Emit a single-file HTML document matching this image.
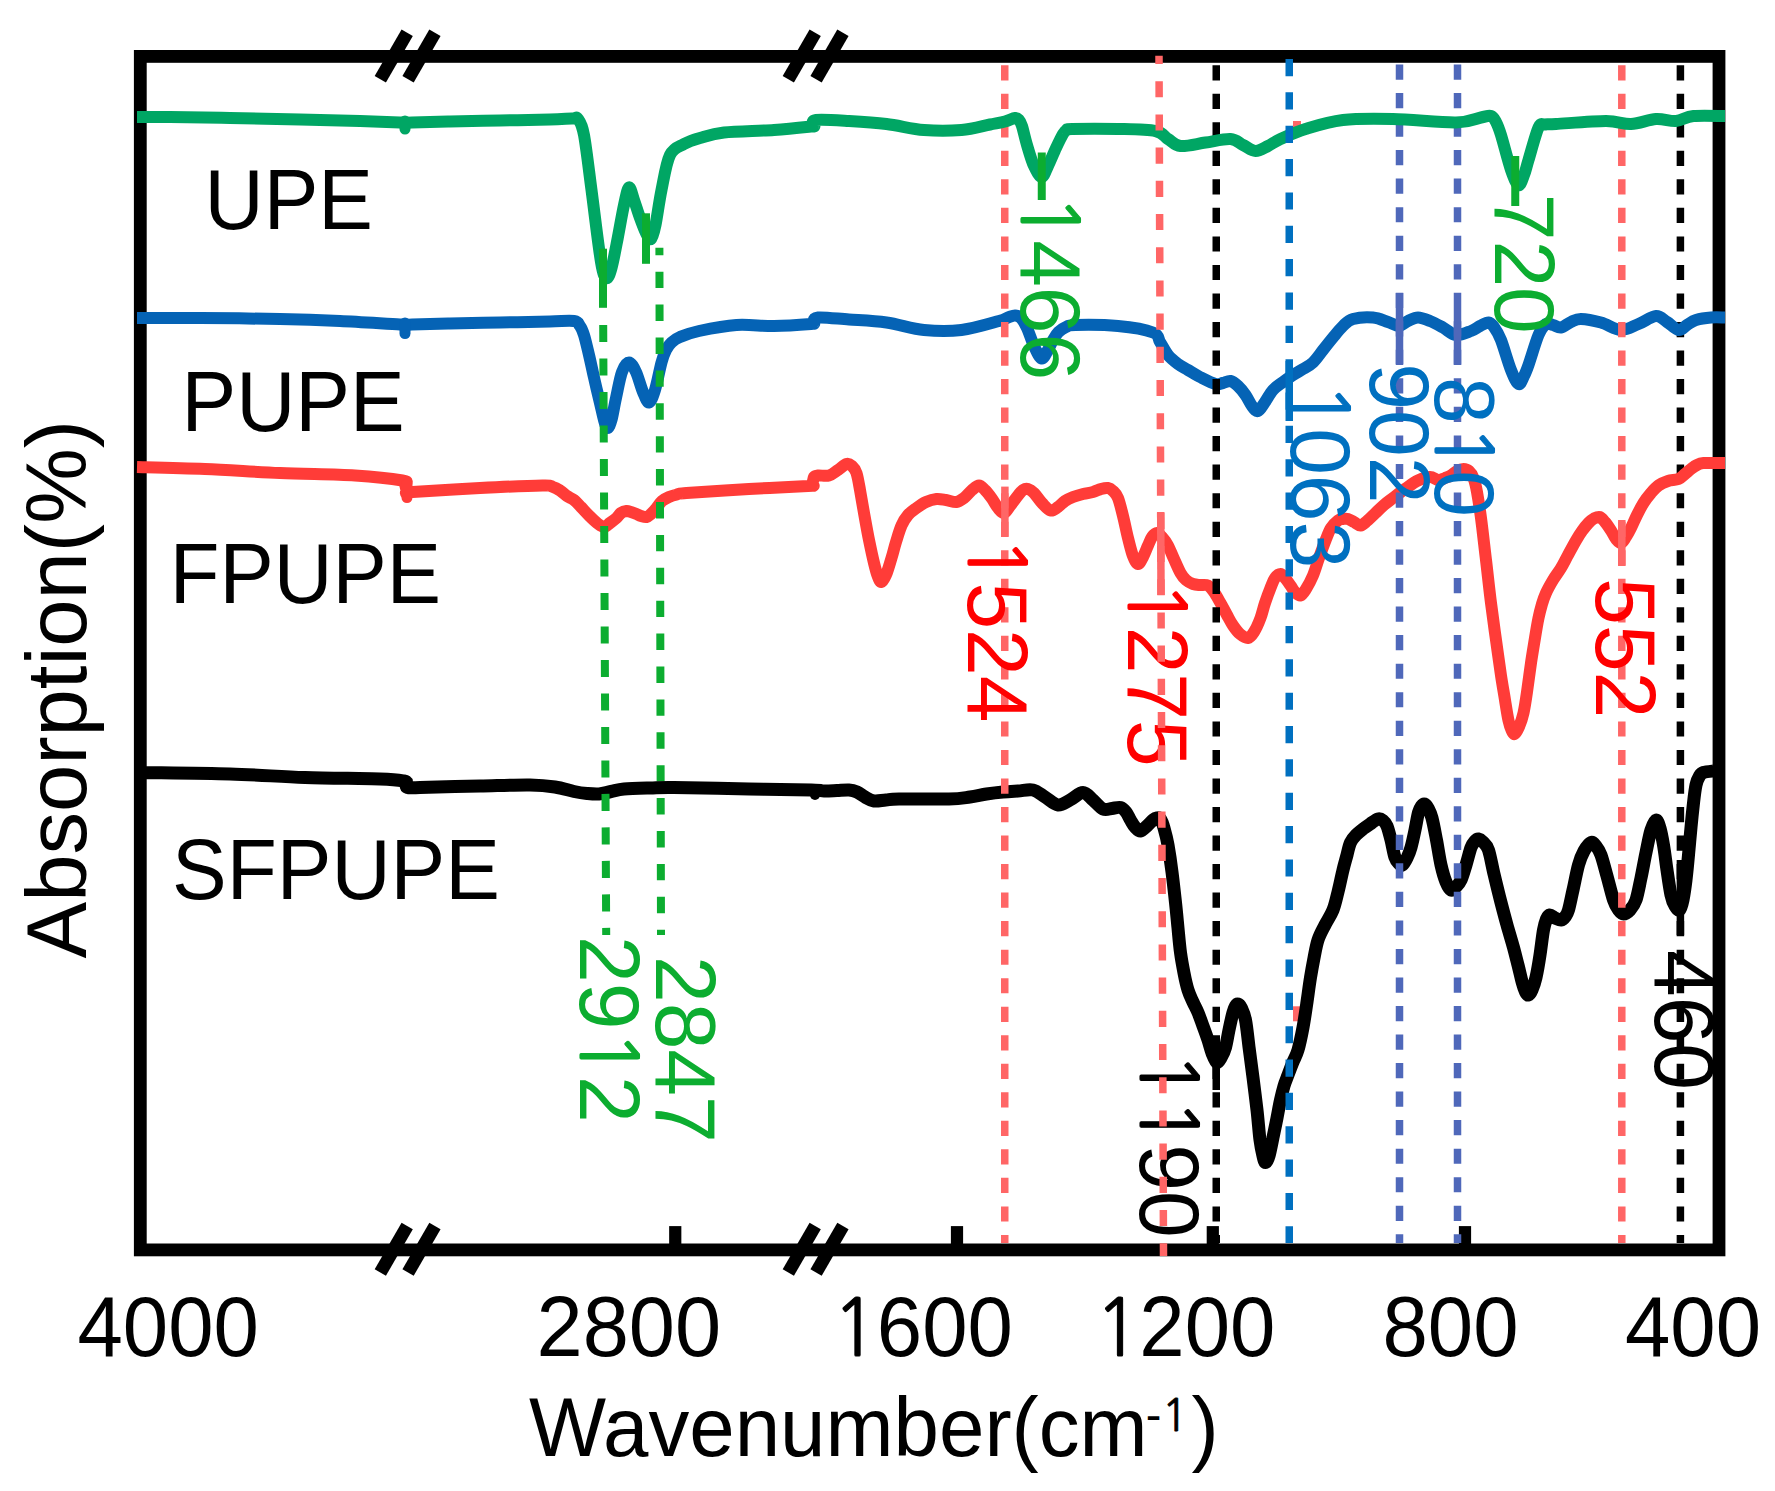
<!DOCTYPE html>
<html><head><meta charset="utf-8"><title>FTIR</title>
<style>html,body{margin:0;padding:0;background:#fff}svg{display:block}text{font-family:"Liberation Sans",sans-serif}</style></head><body>
<svg width="1775" height="1491" viewBox="0 0 1775 1491">
<rect width="1775" height="1491" fill="#fff"/>
<rect x="140.3" y="56.4" width="1578.7" height="1193.5" fill="none" stroke="#000" stroke-width="12.8"/>
<rect x="669.15" y="1226.1" width="12.2" height="20" fill="#000"/>
<rect x="950.9" y="1226.1" width="12.2" height="20" fill="#000"/>
<rect x="1206.7" y="1226.1" width="12.2" height="20" fill="#000"/>
<rect x="1458.9" y="1226.1" width="12.2" height="20" fill="#000"/>
<line x1="380.3" y1="79.2" x2="407.2" y2="32.7" stroke="#000" stroke-width="13"/>
<line x1="380.3" y1="1272.5" x2="407.2" y2="1226.1" stroke="#000" stroke-width="13"/>
<line x1="408.05" y1="79.2" x2="434.95" y2="32.7" stroke="#000" stroke-width="13"/>
<line x1="408.05" y1="1272.5" x2="434.95" y2="1226.1" stroke="#000" stroke-width="13"/>
<line x1="788.3" y1="79.2" x2="815.1999999999999" y2="32.7" stroke="#000" stroke-width="13"/>
<line x1="788.3" y1="1272.5" x2="815.1999999999999" y2="1226.1" stroke="#000" stroke-width="13"/>
<line x1="816.05" y1="79.2" x2="842.9499999999999" y2="32.7" stroke="#000" stroke-width="13"/>
<line x1="816.05" y1="1272.5" x2="842.9499999999999" y2="1226.1" stroke="#000" stroke-width="13"/>
<line x1="1680.4" y1="65.2" x2="1680.4" y2="1243" stroke="#000" stroke-width="7.5" stroke-dasharray="15.2 13.33" stroke-dashoffset="0"/>
<rect x="1293" y="121" width="8" height="8" fill="#FF6666"/><rect x="1293" y="1006.3" width="8" height="15" fill="#FF6666"/>
<path d="M137,467 C148.3,467.3 181.2,468.0 205,469 C228.8,470.0 255.0,471.9 280,473 C305.0,474.1 334.6,474.2 355,475.5 C375.4,476.8 394.2,479.1 402.5,480.5 C410.8,481.9 404.2,481.9 405,484 C405.8,486.1 406.2,491.7 407.5,493 C408.8,494.3 400.4,492.8 412.5,492 C424.6,491.2 458.3,489.1 480,488 C501.7,486.9 530.3,485.7 542.5,485.5 C554.7,485.3 550.1,486.2 553,487 C555.9,487.8 557.7,489.0 560,490.5 C562.3,492.0 564.7,494.4 567,496 C569.3,497.6 571.7,498.2 574,500 C576.3,501.8 578.5,504.4 581,507 C583.5,509.6 586.3,512.8 589,515.5 C591.7,518.2 594.5,521.1 597,523 C599.5,524.9 601.8,527.0 604,527 C606.2,527.0 607.9,524.5 610,523 C612.1,521.5 614.7,519.7 616.5,518 C618.3,516.3 619.3,514.2 621,513 C622.7,511.8 624.8,511.2 626.5,511 C628.2,510.8 629.3,511.5 631,512 C632.7,512.5 634.8,513.3 636.5,514 C638.2,514.7 639.3,515.5 641,516 C642.7,516.5 644.8,517.3 646.5,517 C648.2,516.7 649.3,515.5 651,514 C652.7,512.5 654.7,510.2 656.5,508 C658.3,505.8 659.9,502.8 662,501 C664.1,499.2 666.5,498.1 669,497 C671.5,495.9 674.1,495.2 677,494.5 C679.9,493.8 674.5,493.9 686.5,493 C698.5,492.1 728.8,490.2 749,489 C769.2,487.8 797.5,486.7 808,486 C818.5,485.3 811.0,486.5 812,485 C813.0,483.5 813.0,478.6 814,477 C815.0,475.4 815.5,475.8 818,475.5 C820.5,475.2 825.7,476.4 829,475.5 C832.3,474.6 835.1,471.9 838,470 C840.9,468.1 844.2,464.7 846.5,464 C848.8,463.3 850.3,464.5 852,466 C853.7,467.5 855.2,469.0 856.5,473 C857.8,477.0 858.8,483.3 860,490 C861.2,496.7 862.5,504.7 864,513 C865.5,521.3 867.3,531.7 869,540 C870.7,548.3 872.5,556.8 874,563 C875.5,569.2 876.8,573.8 878,577 C879.2,580.2 880.2,582.3 881.5,582 C882.8,581.7 884.3,579.0 886,575 C887.7,571.0 889.8,563.5 891.5,558 C893.2,552.5 894.3,547.4 896,542 C897.7,536.6 899.5,530.0 901.5,525.5 C903.5,521.0 905.5,517.9 908,515 C910.5,512.1 913.5,510.2 916.5,508 C919.5,505.8 922.7,503.5 926,502 C929.3,500.5 933.2,499.3 936.5,499 C939.8,498.7 942.7,499.5 946,500 C949.3,500.5 953.5,502.3 956.5,502 C959.5,501.7 961.4,500.0 964,498 C966.6,496.0 969.5,492.1 972,490 C974.5,487.9 976.8,485.5 979,485.5 C981.2,485.5 982.9,487.9 985,490 C987.1,492.1 989.3,495.0 991.5,498 C993.7,501.0 995.9,505.5 998,508 C1000.1,510.5 1002.0,513.3 1004,513 C1006.0,512.7 1007.7,508.9 1010,506 C1012.3,503.1 1015.8,498.2 1018,495.5 C1020.2,492.8 1021.3,491.1 1023,490 C1024.7,488.9 1026.2,488.5 1028,489 C1029.8,489.5 1031.7,490.7 1034,493 C1036.3,495.3 1039.2,500.1 1042,503 C1044.8,505.9 1047.8,509.8 1050.5,510.5 C1053.2,511.2 1055.6,508.6 1058,507 C1060.4,505.4 1062.5,502.7 1065,501 C1067.5,499.3 1070.0,498.2 1073,497 C1076.0,495.8 1079.7,494.8 1083,494 C1086.3,493.2 1090.0,492.8 1093,492 C1096.0,491.2 1098.5,489.7 1101,489 C1103.5,488.3 1106.0,487.7 1108,488 C1110.0,488.3 1111.3,489.3 1113,491 C1114.7,492.7 1116.3,493.8 1118,498 C1119.7,502.2 1121.3,509.3 1123,516 C1124.7,522.7 1126.3,531.3 1128,538 C1129.7,544.7 1131.3,551.7 1133,556 C1134.7,560.3 1136.3,563.8 1138,564 C1139.7,564.2 1141.3,560.1 1143,557 C1144.7,553.9 1146.5,548.8 1148,545.5 C1149.5,542.2 1150.5,539.1 1152,537 C1153.5,534.9 1155.1,533.0 1156.75,533 C1158.4,533.0 1160.1,534.9 1162,537 C1163.9,539.1 1166.0,541.8 1168,545.5 C1170.0,549.2 1171.9,554.4 1174,559 C1176.1,563.6 1178.5,569.5 1180.5,573 C1182.5,576.5 1183.9,578.2 1186,580 C1188.1,581.8 1190.7,583.2 1193,584 C1195.3,584.8 1197.5,584.8 1200,585 C1202.5,585.2 1205.7,584.3 1208,585.5 C1210.3,586.7 1211.9,589.1 1214,592 C1216.1,594.9 1218.3,599.2 1220.5,603 C1222.7,606.8 1224.9,611.2 1227,615 C1229.1,618.8 1230.8,622.3 1233,625.5 C1235.2,628.7 1237.5,631.9 1240,634 C1242.5,636.1 1245.7,638.3 1248,638 C1250.3,637.7 1251.9,635.3 1254,632 C1256.1,628.7 1258.7,622.8 1260.5,618 C1262.3,613.2 1263.3,608.0 1265,603 C1266.7,598.0 1268.8,592.2 1270.5,588 C1272.2,583.8 1273.3,580.3 1275,578 C1276.7,575.7 1278.8,574.0 1280.5,574 C1282.2,574.0 1283.3,576.1 1285,578 C1286.7,579.9 1288.8,583.2 1290.5,585.5 C1292.2,587.8 1293.3,590.3 1295,592 C1296.7,593.7 1298.7,596.0 1300.5,595.5 C1302.3,595.0 1303.9,592.3 1306,589 C1308.1,585.7 1310.8,580.7 1313,575.5 C1315.2,570.3 1316.9,563.8 1319,558 C1321.1,552.2 1323.5,545.5 1325.5,540.5 C1327.5,535.5 1328.9,531.3 1331,528 C1333.1,524.7 1336.0,522.0 1338,520.5 C1340.0,519.0 1341.3,519.2 1343,519 C1344.7,518.8 1346.2,518.5 1348,519 C1349.8,519.5 1351.9,520.9 1354,522 C1356.1,523.1 1358.3,525.7 1360.5,525.5 C1362.7,525.3 1364.5,523.1 1367,521 C1369.5,518.9 1372.7,515.7 1375.5,513 C1378.3,510.3 1381.1,507.5 1384,505 C1386.9,502.5 1389.5,500.7 1393,498 C1396.5,495.3 1400.8,491.9 1405,489 C1409.2,486.1 1413.8,482.5 1418,480.5 C1422.2,478.5 1426.6,477.1 1430,477 C1433.4,476.9 1436.0,479.8 1438.5,480 C1441.0,480.2 1442.9,478.8 1445,478 C1447.1,477.2 1449.0,476.7 1451,475.5 C1453.0,474.3 1454.9,472.1 1457,471 C1459.1,469.9 1461.5,469.0 1463.5,469 C1465.5,469.0 1467.3,469.5 1469,471 C1470.7,472.5 1472.2,474.5 1473.5,478 C1474.8,481.5 1475.8,485.3 1477,492 C1478.2,498.7 1479.5,506.7 1481,518 C1482.5,529.3 1484.3,545.8 1486,560 C1487.7,574.2 1489.3,589.7 1491,603 C1492.7,616.3 1494.3,627.9 1496,640 C1497.7,652.1 1499.5,665.5 1501,675.5 C1502.5,685.5 1503.8,692.5 1505,700 C1506.2,707.5 1507.4,715.5 1508.5,720.5 C1509.6,725.5 1510.5,727.8 1511.5,730 C1512.5,732.2 1513.5,734.5 1514.75,734 C1516.0,733.5 1517.5,730.5 1519,727 C1520.5,723.5 1522.2,718.8 1523.5,713 C1524.8,707.2 1525.8,700.3 1527,692 C1528.2,683.7 1529.7,672.0 1531,663 C1532.3,654.0 1533.8,645.5 1535,638 C1536.2,630.5 1537.3,623.7 1538.5,618 C1539.7,612.3 1540.8,608.2 1542,604 C1543.2,599.8 1544.2,597.0 1546,593 C1547.8,589.0 1550.5,584.2 1553,580 C1555.5,575.8 1558.5,572.2 1561,568 C1563.5,563.8 1565.5,559.6 1568,555 C1570.5,550.4 1573.7,544.5 1576,540.5 C1578.3,536.5 1579.9,533.9 1582,531 C1584.1,528.1 1586.5,525.1 1588.5,523 C1590.5,520.9 1592.1,519.5 1594,518.5 C1595.9,517.5 1597.9,516.4 1599.75,517 C1601.6,517.6 1603.1,519.8 1605,522 C1606.9,524.2 1609.2,527.7 1611,530.5 C1612.8,533.3 1614.3,536.9 1616,539 C1617.7,541.1 1619.3,543.3 1621,543 C1622.7,542.7 1624.3,539.5 1626,537 C1627.7,534.5 1629.2,531.7 1631,528 C1632.8,524.3 1634.9,519.2 1637,515 C1639.1,510.8 1641.2,506.7 1643.5,503 C1645.8,499.3 1648.5,495.9 1651,493 C1653.5,490.1 1655.7,487.5 1658.5,485.5 C1661.3,483.5 1664.7,482.1 1668,481 C1671.3,479.9 1675.7,480.2 1678.5,479 C1681.3,477.8 1682.9,475.7 1685,474 C1687.1,472.3 1689.0,470.5 1691,469 C1693.0,467.5 1694.9,466.0 1697,465 C1699.1,464.0 1698.8,463.3 1703.5,463 C1708.2,462.7 1721.4,463.0 1725,463" fill="none" stroke="#FF3C38" stroke-width="12" stroke-linejoin="round" stroke-linecap="butt"/>
<path d="M137,318 C147.5,318.0 176.2,317.8 200,318 C223.8,318.2 256.7,318.5 280,319 C303.3,319.5 320.0,320.1 340,321 C360.0,321.9 388.0,323.9 400,324.5 C412.0,325.1 403.7,324.7 412,324.5 C420.3,324.3 435.3,323.8 450,323.5 C464.7,323.2 483.3,322.8 500,322.5 C516.7,322.2 537.7,321.8 550,321.5 C562.3,321.2 569.0,320.2 574,321 C579.0,321.8 578.3,323.7 580,326 C581.7,328.3 582.5,330.2 584,335 C585.5,339.8 587.3,347.9 589,355 C590.7,362.1 592.2,369.5 594,377.5 C595.8,385.5 598.3,395.9 600,403 C601.7,410.1 602.8,415.8 604,420 C605.2,424.2 606.2,428.0 607.5,428 C608.8,428.0 610.1,425.0 611.5,420 C612.9,415.0 614.2,406.0 616,398 C617.8,390.0 619.8,377.9 622,372 C624.2,366.1 626.7,362.5 629,362.5 C631.3,362.5 633.7,367.1 636,372 C638.3,376.9 640.8,386.9 643,392 C645.2,397.1 647.0,402.8 649,402.5 C651.0,402.2 652.9,396.7 655,390 C657.1,383.3 659.7,369.2 661.5,362.5 C663.3,355.8 664.3,353.3 666,350 C667.7,346.7 669.2,344.7 671.5,342.5 C673.8,340.3 675.4,338.9 680,337 C684.6,335.1 689.6,333.0 699,331 C708.4,329.0 724.0,325.8 736.5,325 C749.0,324.2 761.6,326.2 774,326 C786.4,325.8 804.5,324.5 811,324 C817.5,323.5 811.8,324.1 813,323 C814.2,321.9 812.0,318.1 818,317.5 C824.0,316.9 837.6,318.7 849,319.5 C860.4,320.3 874.0,320.8 886.5,322.5 C899.0,324.2 911.5,328.8 924,330 C936.5,331.2 949.0,331.5 961.5,330 C974.0,328.5 991.2,323.1 999,321 C1006.8,318.9 1005.3,318.4 1008,317.5 C1010.7,316.6 1012.8,315.4 1015,315.5 C1017.2,315.6 1019.0,315.9 1021,318 C1023.0,320.1 1024.8,323.3 1027,328 C1029.2,332.7 1031.6,340.9 1034,346 C1036.4,351.1 1039.2,357.8 1041.5,358.5 C1043.8,359.2 1046.1,353.1 1048,350 C1049.9,346.9 1051.2,343.0 1053,340 C1054.8,337.0 1056.3,334.2 1058.5,332 C1060.7,329.8 1063.2,328.2 1066,327 C1068.8,325.8 1066.8,325.2 1075.5,325 C1084.2,324.8 1105.1,324.8 1118,326 C1130.9,327.2 1146.0,329.8 1153,332.5 C1160.0,335.2 1157.5,338.2 1160,342 C1162.5,345.8 1165.0,351.3 1168,355 C1171.0,358.7 1174.7,361.5 1178,364 C1181.3,366.5 1184.3,367.8 1188,370 C1191.7,372.2 1195.4,374.7 1200,377 C1204.6,379.3 1211.7,383.0 1215.5,384 C1219.3,385.0 1220.5,383.5 1223,383 C1225.5,382.5 1228.0,380.5 1230.5,381 C1233.0,381.5 1235.5,383.7 1238,386 C1240.5,388.3 1243.2,391.7 1245.5,395 C1247.8,398.3 1249.9,403.3 1252,406 C1254.1,408.7 1255.8,411.7 1258,411 C1260.2,410.3 1262.5,405.5 1265,402 C1267.5,398.5 1270.0,393.3 1273,390 C1276.0,386.7 1279.7,384.5 1283,382 C1286.3,379.5 1289.7,377.2 1293,375 C1296.3,372.8 1299.7,371.1 1303,369 C1306.3,366.9 1309.7,365.7 1313,362.5 C1316.3,359.3 1319.7,354.2 1323,350 C1326.3,345.8 1329.7,341.5 1333,337.5 C1336.3,333.5 1339.7,329.1 1343,326 C1346.3,322.9 1348.0,320.4 1353,319 C1358.0,317.6 1367.2,317.0 1373,317.5 C1378.8,318.0 1383.7,320.6 1388,322 C1392.3,323.4 1395.7,326.2 1399,326 C1402.3,325.8 1404.8,322.4 1408,321 C1411.2,319.6 1414.3,317.5 1418,317.5 C1421.7,317.5 1425.8,319.3 1430,321 C1434.2,322.7 1438.7,325.2 1443,327.5 C1447.3,329.8 1451.3,334.4 1456,335 C1460.7,335.6 1467.0,332.5 1471,331 C1475.0,329.5 1477.1,327.4 1480,326 C1482.9,324.6 1486.2,322.3 1488.5,322.5 C1490.8,322.7 1491.9,324.1 1494,327 C1496.1,329.9 1498.2,332.8 1501,340 C1503.8,347.2 1508.1,362.7 1511,370 C1513.9,377.3 1516.3,383.0 1518.5,384 C1520.7,385.0 1522.3,379.2 1524,376 C1525.7,372.8 1526.1,371.8 1528.5,365 C1530.9,358.2 1535.6,341.8 1538.5,335 C1541.4,328.2 1543.6,325.7 1546,324 C1548.4,322.3 1550.5,324.4 1553,325 C1555.5,325.6 1558.0,328.0 1561,327.5 C1564.0,327.0 1567.7,323.4 1571,322 C1574.3,320.6 1576.0,318.9 1581,319 C1586.0,319.1 1594.3,320.7 1601,322.5 C1607.7,324.3 1614.8,329.8 1621,330 C1627.2,330.2 1632.7,326.3 1638.5,324 C1644.3,321.7 1651.2,316.3 1656,316 C1660.8,315.7 1663.2,319.7 1667,322 C1670.8,324.3 1675.2,329.5 1678.5,330 C1681.8,330.5 1684.1,326.7 1687,325 C1689.9,323.3 1692.0,321.2 1696,320 C1700.0,318.8 1706.2,317.9 1711,317.5 C1715.8,317.1 1722.7,317.5 1725,317.5" fill="none" stroke="#0563B5" stroke-width="12" stroke-linejoin="round" stroke-linecap="butt"/>
<line x1="659.4" y1="247.7" x2="661" y2="935" stroke="#0CAD30" stroke-width="8" stroke-dasharray="16.4 16.5" stroke-dashoffset="8.9"/>
<path d="M137,772.5 C152.5,772.8 202.0,773.2 230,774 C258.0,774.8 280.0,776.7 305,777.5 C330.0,778.3 363.5,778.4 380,779 C396.5,779.6 399.7,780.3 404,781 C408.3,781.7 405.4,781.9 406,783 C406.6,784.1 405.2,786.8 407.5,787.5 C409.8,788.2 407.9,787.8 420,787.5 C432.1,787.2 461.7,786.4 480,786 C498.3,785.6 517.5,784.8 530,785 C542.5,785.2 547.7,785.9 555,787 C562.3,788.1 568.7,790.4 574,791.5 C579.3,792.6 582.8,793.1 587,793.5 C591.2,793.9 595.0,794.3 599,794 C603.0,793.7 606.8,792.3 611,791.5 C615.2,790.7 617.5,789.6 624,789 C630.5,788.4 641.7,788.2 650,788 C658.3,787.8 657.5,787.3 674,787.5 C690.5,787.7 726.1,788.6 749,789 C771.9,789.4 799.0,789.7 811.5,790 C824.0,790.3 819.8,790.9 824,791 C828.2,791.1 832.8,790.7 837,790.5 C841.2,790.3 845.7,789.8 849,790 C852.3,790.2 854.3,790.8 857,792 C859.7,793.2 862.2,795.5 865,797 C867.8,798.5 870.5,800.5 874,801 C877.5,801.5 881.8,800.3 886,800 C890.2,799.7 888.5,799.2 899,799 C909.5,798.8 937.2,799.3 949,799 C960.8,798.7 963.8,797.8 970,797 C976.2,796.2 981.0,794.8 986.5,794 C992.0,793.2 997.8,792.5 1003,792 C1008.2,791.5 1013.0,791.3 1018,791 C1023.0,790.7 1028.5,789.0 1033,790 C1037.5,791.0 1040.8,794.5 1045,797 C1049.2,799.5 1053.8,804.5 1058,805 C1062.2,805.5 1065.8,802.1 1070,800 C1074.2,797.9 1079.2,792.5 1083,792.5 C1086.8,792.5 1089.7,797.2 1093,800 C1096.3,802.8 1099.8,807.6 1103,809 C1106.2,810.4 1109.1,808.8 1112,808.5 C1114.9,808.2 1118.2,806.9 1120.5,807.5 C1122.8,808.1 1124.3,809.9 1126,812 C1127.7,814.1 1129.0,817.5 1130.5,820 C1132.0,822.5 1133.3,825.2 1135,827 C1136.7,828.8 1138.5,831.2 1140.5,831 C1142.5,830.8 1144.9,827.8 1147,826 C1149.1,824.2 1151.3,821.3 1153,820 C1154.7,818.7 1155.8,818.2 1157,818 C1158.2,817.8 1159.3,817.3 1160.5,819 C1161.7,820.7 1162.8,823.7 1164,828 C1165.2,832.3 1166.7,837.7 1168,845 C1169.3,852.3 1170.8,862.4 1172,872 C1173.2,881.6 1174.5,893.2 1175.5,902.5 C1176.5,911.8 1177.2,919.7 1178,928 C1178.8,936.3 1179.5,945.0 1180.5,952.5 C1181.5,960.0 1182.8,966.8 1184,973 C1185.2,979.2 1186.5,985.2 1188,990 C1189.5,994.8 1191.3,998.2 1193,1002 C1194.7,1005.8 1196.3,1008.5 1198,1012.5 C1199.7,1016.5 1201.3,1021.4 1203,1026 C1204.7,1030.6 1206.5,1035.5 1208,1040 C1209.5,1044.5 1210.5,1049.2 1212,1053 C1213.5,1056.8 1215.2,1061.7 1216.75,1062.5 C1218.2,1063.3 1219.5,1060.5 1221,1058 C1222.5,1055.5 1224.2,1052.2 1225.5,1047.5 C1226.8,1042.8 1227.8,1035.8 1229,1030 C1230.2,1024.2 1231.9,1016.5 1233,1012.5 C1234.1,1008.5 1234.7,1007.4 1235.5,1006 C1236.3,1004.6 1237.0,1003.7 1238,1004 C1239.0,1004.3 1240.2,1005.3 1241.5,1008 C1242.8,1010.7 1244.2,1013.5 1245.5,1020 C1246.8,1026.5 1247.8,1037.4 1249,1047 C1250.2,1056.6 1251.7,1067.0 1253,1077.5 C1254.3,1088.0 1255.8,1099.6 1257,1110 C1258.2,1120.4 1259.0,1132.3 1260,1140 C1261.0,1147.7 1262.1,1152.2 1263,1156 C1263.9,1159.8 1264.5,1162.5 1265.5,1162.5 C1266.5,1162.5 1267.8,1160.2 1269,1156 C1270.2,1151.8 1271.7,1143.8 1273,1137.5 C1274.3,1131.2 1275.8,1124.2 1277,1118 C1278.2,1111.8 1279.3,1105.3 1280.5,1100 C1281.7,1094.7 1282.8,1090.2 1284,1086 C1285.2,1081.8 1286.5,1079.0 1288,1075 C1289.5,1071.0 1291.3,1066.2 1293,1062 C1294.7,1057.8 1296.3,1055.8 1298,1050 C1299.7,1044.2 1301.5,1035.5 1303,1027.5 C1304.5,1019.5 1305.8,1010.3 1307,1002 C1308.2,993.7 1309.3,984.8 1310.5,977.5 C1311.7,970.2 1312.8,964.2 1314,958 C1315.2,951.8 1316.2,945.5 1318,940 C1319.8,934.5 1322.5,930.0 1325,925 C1327.5,920.0 1330.8,915.5 1333,910 C1335.2,904.5 1336.3,898.7 1338,892 C1339.7,885.3 1341.5,876.2 1343,870 C1344.5,863.8 1345.8,859.6 1347,855 C1348.2,850.4 1349.0,845.8 1350.5,842.5 C1352.0,839.2 1353.9,837.2 1356,835 C1358.1,832.8 1360.7,830.8 1363,829 C1365.3,827.2 1367.5,825.7 1370,824 C1372.5,822.3 1375.8,819.6 1378,819 C1380.2,818.4 1381.5,819.3 1383,820.5 C1384.5,821.7 1385.7,822.8 1387,826 C1388.3,829.2 1389.7,834.8 1391,840 C1392.3,845.2 1393.7,853.6 1395,857.5 C1396.3,861.4 1397.8,862.2 1399,863.5 C1400.2,864.8 1401.2,865.9 1402.5,865 C1403.8,864.1 1405.6,860.9 1407,858 C1408.4,855.1 1409.7,852.2 1411,847.5 C1412.3,842.8 1413.8,835.8 1415,830 C1416.2,824.2 1417.4,816.5 1418.5,812.5 C1419.6,808.5 1420.5,807.4 1421.5,806 C1422.5,804.6 1423.7,803.7 1424.75,804 C1425.8,804.3 1426.8,805.7 1428,808 C1429.2,810.3 1430.6,812.7 1432,818 C1433.4,823.3 1435.0,832.2 1436.5,840 C1438.0,847.8 1439.4,858.0 1441,865 C1442.6,872.0 1444.3,877.8 1446,882 C1447.7,886.2 1449.3,889.2 1451,890 C1452.7,890.8 1454.3,888.7 1456,887 C1457.7,885.3 1459.3,883.7 1461,880 C1462.7,876.3 1464.3,870.4 1466,865 C1467.7,859.6 1469.5,851.5 1471,847.5 C1472.5,843.5 1473.8,842.4 1475,841 C1476.2,839.6 1477.2,838.8 1478.5,839 C1479.8,839.2 1481.3,840.2 1483,842 C1484.7,843.8 1486.7,844.7 1488.5,850 C1490.3,855.3 1491.9,865.2 1494,874 C1496.1,882.8 1498.8,894.0 1501,902.5 C1503.2,911.0 1504.9,917.5 1507,925 C1509.1,932.5 1511.7,940.8 1513.5,947.5 C1515.3,954.2 1516.5,959.2 1518,965 C1519.5,970.8 1521.0,978.0 1522.25,982.5 C1523.5,987.0 1524.5,989.9 1525.5,992 C1526.5,994.1 1527.4,995.3 1528.5,995 C1529.6,994.7 1530.8,992.9 1532,990 C1533.2,987.1 1534.7,983.3 1536,977.5 C1537.3,971.7 1538.8,962.9 1540,955 C1541.2,947.1 1542.4,936.0 1543.5,930 C1544.6,924.0 1545.5,921.5 1546.5,919 C1547.5,916.5 1548.3,915.2 1549.75,915 C1551.2,914.8 1553.1,917.2 1555,918 C1556.9,918.8 1559.3,920.2 1561,920 C1562.7,919.8 1563.8,918.7 1565,917 C1566.2,915.3 1567.2,914.5 1568.5,910 C1569.8,905.5 1571.3,897.5 1573,890 C1574.7,882.5 1576.7,871.5 1578.5,865 C1580.3,858.5 1581.9,854.8 1584,851 C1586.1,847.2 1589.0,843.3 1591,842.5 C1593.0,841.7 1594.3,843.9 1596,846 C1597.7,848.1 1599.2,850.0 1601,855 C1602.8,860.0 1604.9,868.5 1607,876 C1609.1,883.5 1611.6,894.3 1613.5,900 C1615.4,905.7 1616.8,907.7 1618.5,910 C1620.2,912.3 1621.6,914.0 1623.5,914 C1625.4,914.0 1627.9,912.3 1630,910 C1632.1,907.7 1634.2,905.3 1636,900 C1637.8,894.7 1639.3,885.9 1641,878 C1642.7,870.1 1644.3,860.5 1646,852.5 C1647.7,844.5 1649.3,835.4 1651,830 C1652.7,824.6 1654.5,820.3 1656,820 C1657.5,819.7 1658.8,823.8 1660,828 C1661.2,832.2 1662.3,838.0 1663.5,845 C1664.7,852.0 1665.8,861.7 1667,870 C1668.2,878.3 1669.7,889.0 1671,895 C1672.3,901.0 1673.5,903.5 1675,906 C1676.5,908.5 1678.4,911.0 1679.75,910 C1681.1,909.0 1682.0,905.0 1683,900 C1684.0,895.0 1685.1,887.5 1686,880 C1686.9,872.5 1687.7,863.8 1688.5,855 C1689.3,846.2 1690.2,836.2 1691,827.5 C1691.8,818.8 1692.7,810.1 1693.5,803 C1694.3,795.9 1695.0,789.5 1696,785 C1697.0,780.5 1698.2,778.1 1699.5,776 C1700.8,773.9 1701.2,773.3 1703.5,772.5 C1705.8,771.7 1711.8,771.2 1713.5,771" fill="none" stroke="#000" stroke-width="13" stroke-linejoin="round" stroke-linecap="butt"/>
<line x1="1004.75" y1="65.2" x2="1004.75" y2="1243" stroke="#FF6666" stroke-width="7.5" stroke-dasharray="15.2 13.33" stroke-dashoffset="0"/>
<line x1="1621.8" y1="65.2" x2="1621.8" y2="1243" stroke="#FF6666" stroke-width="7.5" stroke-dasharray="15.2 13.33" stroke-dashoffset="0"/>
<line x1="1399.5" y1="64.5" x2="1399.5" y2="1243" stroke="#4F68BA" stroke-width="7.5" stroke-dasharray="15.2 13.33" stroke-dashoffset="0"/>
<line x1="1457.5" y1="64.5" x2="1457.5" y2="1243" stroke="#4F68BA" stroke-width="7.5" stroke-dasharray="15.2 13.33" stroke-dashoffset="0"/>
<line x1="1216.25" y1="65.2" x2="1216.25" y2="1243" stroke="#000" stroke-width="7.5" stroke-dasharray="15.2 13.33" stroke-dashoffset="0"/>
<line x1="1399.5" y1="293" x2="1399.5" y2="364" stroke="#4F68BA" stroke-width="7.5"/>
<line x1="1457.5" y1="308" x2="1457.5" y2="364.5" stroke="#4F68BA" stroke-width="7.5"/>
<path d="M137,117 C142.5,117.0 154.5,116.8 170,117 C185.5,117.2 208.3,117.6 230,118 C251.7,118.4 278.3,119.0 300,119.5 C321.7,120.0 343.3,120.5 360,121 C376.7,121.5 391.3,122.2 400,122.5 C408.7,122.8 403.7,122.7 412,122.5 C420.3,122.3 435.3,121.8 450,121.5 C464.7,121.2 483.3,120.8 500,120.5 C516.7,120.2 538.0,119.8 550,119.5 C562.0,119.2 567.3,118.6 572,118.5 C576.7,118.4 576.0,116.2 578,119 C580.0,121.8 581.8,123.2 584,135 C586.2,146.8 588.7,168.8 591.5,190 C594.3,211.2 598.5,247.3 601,262 C603.5,276.7 604.8,277.0 606.5,278 C608.2,279.0 609.6,274.7 611.5,268 C613.4,261.3 615.7,248.5 617.75,238 C619.8,227.5 622.1,213.4 624,205 C625.9,196.6 627.3,188.3 629,187.5 C630.7,186.7 632.2,194.9 634,200 C635.8,205.1 638.0,212.5 640,218 C642.0,223.5 644.2,229.5 646,233 C647.8,236.5 649.4,240.3 651,239 C652.6,237.7 653.8,233.2 655.5,225 C657.2,216.8 659.1,201.7 661.5,190 C663.9,178.3 666.2,162.7 670,155 C673.8,147.3 679.0,146.8 684,144 C689.0,141.2 693.3,139.9 700,138 C706.7,136.1 711.7,133.8 724,132.5 C736.3,131.2 759.5,131.0 774,130 C788.5,129.0 804.5,127.2 811,126.5 C817.5,125.8 812.2,127.1 813,126 C813.8,124.9 810.0,120.8 816,120 C822.0,119.2 837.2,120.3 849,121 C860.8,121.7 874.0,122.5 886.5,124 C899.0,125.5 911.5,129.0 924,130 C936.5,131.0 950.5,130.9 961.5,130 C972.5,129.1 982.8,125.9 990,124.5 C997.2,123.1 1000.8,122.6 1005,121.5 C1009.2,120.4 1012.7,118.2 1015,118 C1017.3,117.8 1017.8,118.7 1019,120 C1020.2,121.3 1020.7,121.8 1022,126 C1023.3,130.2 1025.0,138.3 1027,145 C1029.0,151.7 1031.5,160.7 1034,166 C1036.5,171.3 1039.4,177.0 1041.75,177 C1044.1,177.0 1045.6,170.8 1048,166 C1050.4,161.2 1053.5,153.3 1056,148 C1058.5,142.7 1061.2,137.0 1063,134 C1064.8,131.0 1065.5,130.8 1067,130 C1068.5,129.2 1063.5,129.2 1072,129 C1080.5,128.8 1104.1,128.7 1118,129 C1131.9,129.3 1147.2,129.3 1155.5,131 C1163.8,132.7 1163.8,136.5 1168,139 C1172.2,141.5 1174.2,145.4 1180.5,146 C1186.8,146.6 1197.2,143.7 1205.5,142.5 C1213.8,141.3 1224.2,138.6 1230.5,139 C1236.8,139.4 1238.8,143.0 1243,145 C1247.2,147.0 1251.3,150.8 1255.5,151 C1259.7,151.2 1263.8,148.0 1268,146 C1272.2,144.0 1274.2,141.8 1280.5,139 C1286.8,136.2 1295.1,132.2 1305.5,129 C1315.9,125.8 1328.4,121.7 1343,120 C1357.6,118.3 1374.2,118.6 1393,119 C1411.8,119.4 1441.3,122.8 1456,122.5 C1470.7,122.2 1475.2,118.6 1481,117.5 C1486.8,116.4 1488.5,115.2 1491,116 C1493.5,116.8 1494.3,118.8 1496,122 C1497.7,125.2 1498.5,127.0 1501,135 C1503.5,143.0 1508.1,161.7 1511,170 C1513.9,178.3 1516.3,184.2 1518.5,185 C1520.7,185.8 1522.3,179.2 1524,175 C1525.7,170.8 1526.1,167.9 1528.5,160 C1530.9,152.1 1535.8,133.4 1538.5,127.5 C1541.2,121.6 1542.1,125.1 1545,124.5 C1547.9,123.9 1545.8,124.6 1556,124 C1566.2,123.4 1593.5,121.0 1606,121 C1618.5,121.0 1622.7,124.3 1631,124 C1639.3,123.7 1648.5,119.5 1656,119 C1663.5,118.5 1669.8,121.5 1676,121 C1682.2,120.5 1685.3,116.8 1693.5,116 C1701.7,115.2 1719.8,116.0 1725,116" fill="none" stroke="#00A664" stroke-width="12" stroke-linejoin="round" stroke-linecap="butt"/>
<line x1="1289.25" y1="59" x2="1289.25" y2="1243" stroke="#0070C0" stroke-width="7.5" stroke-dasharray="17.2 16.15" stroke-dashoffset="0"/>
<line x1="1289.25" y1="361" x2="1289.25" y2="421" stroke="#0070C0" stroke-width="7.5"/>
<line x1="405" y1="121" x2="405" y2="129" stroke="#00A664" stroke-width="11" stroke-linecap="round"/>
<line x1="405" y1="323" x2="405" y2="333.5" stroke="#0563B5" stroke-width="11" stroke-linecap="round"/>
<line x1="407" y1="484" x2="407" y2="497.5" stroke="#FF3C38" stroke-width="11" stroke-linecap="round"/>
<line x1="815" y1="790" x2="815" y2="795" stroke="#000" stroke-width="10" stroke-linecap="round"/>
<line x1="603.2" y1="324.9" x2="606.2" y2="935" stroke="#0CAD30" stroke-width="8" stroke-dasharray="17.2 16.3" stroke-dashoffset="0"/>
<line x1="603" y1="248.7" x2="603" y2="307.8" stroke="#0CAD30" stroke-width="8"/>
<line x1="646" y1="213.3" x2="646" y2="263.8" stroke="#0CAD30" stroke-width="8"/>
<line x1="1041.75" y1="152.5" x2="1041.75" y2="200" stroke="#0CAD30" stroke-width="8"/>
<line x1="1515.25" y1="156" x2="1515.25" y2="206" stroke="#0CAD30" stroke-width="8"/>
<line x1="1621.8" y1="520" x2="1621.8" y2="566" stroke="#FF6666" stroke-width="7.5"/>
<line x1="1216.25" y1="1040" x2="1216.25" y2="1090" stroke="#000" stroke-width="7.5"/>
<line x1="1680.4" y1="860" x2="1680.4" y2="935" stroke="#000" stroke-width="7.5"/>
<text transform="translate(1020.5,193.5) rotate(90) scale(0.982,1)" font-size="85.5" fill="#0CAD30"><tspan font-family="NanumGothic,'Liberation Sans',sans-serif" font-size="79.17" dx="0.85" stroke="#0CAD30" stroke-width="1.1">1</tspan><tspan dx="-1.28">466</tspan></text>
<text transform="translate(1494.75,193.7) rotate(90) scale(0.982,1)" font-size="85.5" fill="#0CAD30">720</text>
<text transform="translate(579.5,936) rotate(90) scale(0.982,1)" font-size="85.5" fill="#0CAD30">29<tspan font-family="NanumGothic,'Liberation Sans',sans-serif" font-size="79.17" dx="0.85" stroke="#0CAD30" stroke-width="1.1">1</tspan><tspan dx="-1.28">2</tspan></text>
<text transform="translate(656.4,956) rotate(90) scale(0.982,1)" font-size="85.5" fill="#0CAD30">2847</text>
<text transform="translate(967.75,535.75) rotate(90) scale(0.982,1)" font-size="85.5" fill="#FF0000"><tspan font-family="NanumGothic,'Liberation Sans',sans-serif" font-size="79.17" dx="0.85" stroke="#FF0000" stroke-width="1.1">1</tspan><tspan dx="-1.28">524</tspan></text>
<text transform="translate(1128,580) rotate(90) scale(0.982,1)" font-size="85.5" fill="#FF0000"><tspan font-family="NanumGothic,'Liberation Sans',sans-serif" font-size="79.17" dx="0.85" stroke="#FF0000" stroke-width="1.1">1</tspan><tspan dx="-1.28">275</tspan></text>
<text transform="translate(1596,578.2) rotate(90) scale(0.982,1)" font-size="85.5" fill="#FF0000">552</text>
<text transform="translate(1291.3,381.5) rotate(90) scale(0.982,1)" font-size="85.5" fill="#0070C0"><tspan font-family="NanumGothic,'Liberation Sans',sans-serif" font-size="79.17" dx="0.85" stroke="#0070C0" stroke-width="1.1">1</tspan><tspan dx="-1.28">063</tspan></text>
<text transform="translate(1369.6,363.3) rotate(90) scale(0.982,1)" font-size="85.5" fill="#0070C0">902</text>
<text transform="translate(1434.75,377) rotate(90) scale(0.982,1)" font-size="85.5" fill="#0070C0">8<tspan font-family="NanumGothic,'Liberation Sans',sans-serif" font-size="79.17" dx="0.85" stroke="#0070C0" stroke-width="1.1">1</tspan><tspan dx="-1.28">0</tspan></text>
<text transform="translate(1139.75,1050.9) rotate(90) scale(0.982,1)" font-size="85.5" fill="#000"><tspan font-family="NanumGothic,'Liberation Sans',sans-serif" font-size="79.17" dx="0.85" stroke="#000" stroke-width="1.1">1</tspan><tspan font-family="NanumGothic,'Liberation Sans',sans-serif" font-size="79.17" dx="-0.43" stroke="#000" stroke-width="1.1">1</tspan><tspan dx="-1.28">90</tspan></text>
<text transform="translate(1654.75,950) rotate(90) scale(0.982,1)" font-size="85.5" fill="#000">460</text>
<text transform="translate(204.5,228.5) scale(0.953,1)" font-size="86" fill="#000">UPE</text>
<text transform="translate(181.5,431) scale(0.953,1)" font-size="86" fill="#000">PUPE</text>
<text transform="translate(169.7,602.5) scale(0.946,1)" font-size="86" fill="#000">FPUPE</text>
<text transform="translate(172,898.5) scale(0.953,1)" font-size="86" fill="#000">SFPUPE</text>
<text transform="translate(77.5,1356.25) scale(0.955,1)" font-size="85.4" fill="#000">4000</text>
<text transform="translate(536.5,1356.25) scale(0.972,1)" font-size="85.4" fill="#000">2800</text>
<text transform="translate(831.5,1356.25) scale(0.955,1)" font-size="85.4" fill="#000"><tspan font-family="NanumGothic,'Liberation Sans',sans-serif" font-size="79.08" dx="0.85" stroke="#000" stroke-width="1.1">1</tspan><tspan dx="-1.28">600</tspan></text>
<text transform="translate(1094,1356.25) scale(0.955,1)" font-size="85.4" fill="#000"><tspan font-family="NanumGothic,'Liberation Sans',sans-serif" font-size="79.08" dx="0.85" stroke="#000" stroke-width="1.1">1</tspan><tspan dx="-1.28">200</tspan></text>
<text transform="translate(1382.5,1356.25) scale(0.955,1)" font-size="85.4" fill="#000">800</text>
<text transform="translate(1625,1356.25) scale(0.955,1)" font-size="85.4" fill="#000">400</text>
<text transform="translate(529,1455.5) scale(0.977,1)" font-size="83.6" fill="#000">Wavenumber(cm<tspan font-size="48" dy="-24.5" dx="-2">-</tspan><tspan font-family="NanumGothic,'Liberation Sans',sans-serif" font-size="44.4" dx="0.5" stroke="#000" stroke-width="0.8">1</tspan><tspan dy="24.5" dx="3.5">)</tspan></text>
<text transform="translate(86.2,958.5) rotate(-90) scale(1.0084,1)" font-size="84.3" fill="#000">Absorption(%)</text>
<line x1="1159" y1="55.7" x2="1163.5" y2="1256" stroke="#FF6666" stroke-width="7.5" stroke-dasharray="16.1 17.1" stroke-dashoffset="7.7"/>
<line x1="1160.7" y1="512" x2="1161" y2="595" stroke="#FF6666" stroke-width="7.5"/>
<line x1="1004.9" y1="486.6" x2="1004.9" y2="536.7" stroke="#FF6666" stroke-width="7.5"/>
</svg></body></html>
